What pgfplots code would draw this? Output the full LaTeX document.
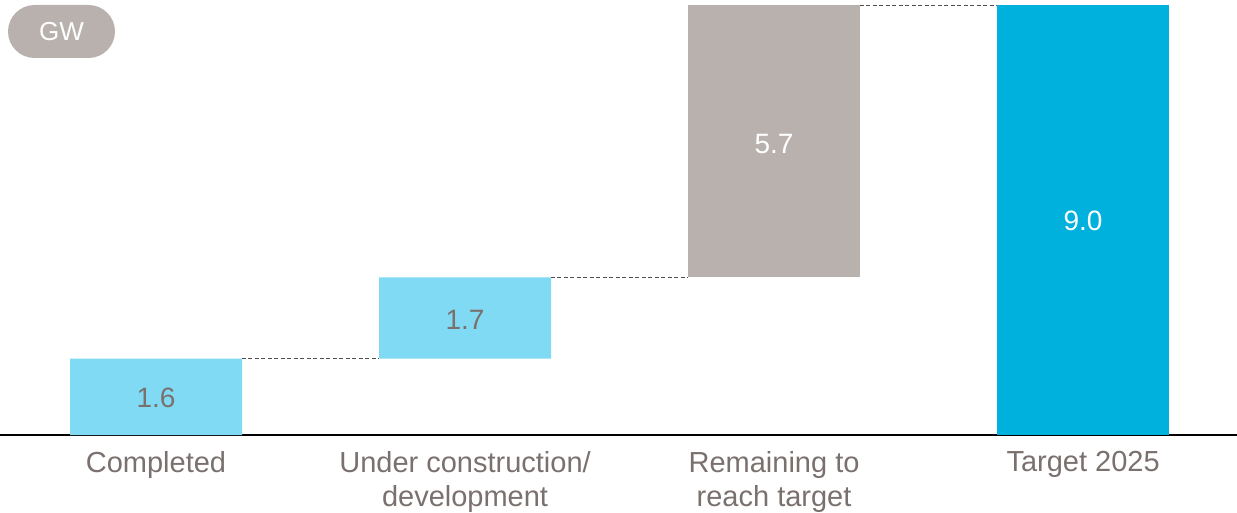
\documentclass[border=0pt]{standalone}
\usepackage{pgfplots}
\pgfplotsset{compat=1.18}
\usepackage{fontspec}
\setmainfont{Liberation Sans}
\definecolor{lblue}{HTML}{80DAF3}
\definecolor{dblue}{HTML}{00B0DD}
\definecolor{bgrey}{HTML}{B9B1AE}
\definecolor{tgrey}{HTML}{7A716E}
\definecolor{dgrey}{HTML}{505050}
\begin{document}
\begin{tikzpicture}
\path[use as bounding box] (0pt,-77pt) rectangle (1237pt,435pt);
\pgfplotsset{common/.style={
  scale only axis, width=1237pt, height=430pt,
  xmin=-0.5049, xmax=3.498, ymin=0, ymax=9,
  enlargelimits=false, clip=false}}
\begin{axis}[common,
  ybar stacked, bar width=172pt,
  axis x line=bottom, axis y line=none,
  axis line style={black, line width=1.5pt, -},
  xtick={0,1,2,3},
  xticklabels={Completed,{Under construction/\\development},{Remaining to\\reach target},Target 2025},
  xticklabel style={align=center, text=tgrey, font=\fontsize{29}{34}\selectfont, inner sep=0pt, yshift=-16pt},
  major tick length=0pt,
  ytick=\empty]
\addplot[fill=none, draw=none] coordinates {(0,0) (1,1.6) (2,3.3) (3,0)};
\addplot[fill=lblue, draw=none] coordinates {(0,1.6) (1,1.7) (2,0) (3,0)};
\addplot[fill=bgrey, draw=none] coordinates {(0,0) (1,0) (2,5.7) (3,0)};
\addplot[fill=dblue, draw=none] coordinates {(0,0) (1,0) (2,0) (3,9.0)};
\end{axis}
\begin{axis}[common, axis lines=none, xtick=\empty, ytick=\empty]
\addplot[dgrey, line width=1pt, dash pattern=on 4pt off 2.5pt] coordinates {(0.278,1.6) (0.722,1.6)};
\addplot[dgrey, line width=1pt, dash pattern=on 4pt off 2.5pt] coordinates {(1.278,3.3) (1.722,3.3)};
\addplot[dgrey, line width=1pt, dash pattern=on 4pt off 2.5pt] coordinates {(2.278,9.0) (2.722,9.0)};
\node[text=tgrey, font=\fontsize{28}{32}\selectfont] at (axis cs:0,0.78) {1.6};
\node[text=tgrey, font=\fontsize{28}{32}\selectfont] at (axis cs:1,2.4) {1.7};
\node[text=white, font=\fontsize{28}{32}\selectfont] at (axis cs:2,6.1) {5.7};
\node[text=white, font=\fontsize{28}{32}\selectfont] at (axis cs:3,4.48) {9.0};
\end{axis}
\node[fill=bgrey, rounded corners=26.5pt, minimum width=107pt, minimum height=53pt, inner sep=0pt, text=white, font=\fontsize{26}{30}\selectfont] at (61.5pt,403.5pt) {GW};
\end{tikzpicture}
\end{document}
